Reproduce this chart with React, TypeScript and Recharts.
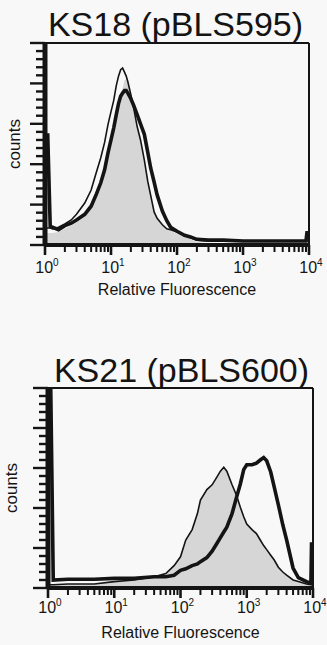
import {
  ComposedChart,
  Area,
  Line,
  XAxis,
  YAxis,
  ReferenceLine,
} from "recharts";

const INK = "#141414";
const GREY = "#d6d6d6";
const FONT = '"Liberation Sans", Arial, Helvetica, sans-serif';

// shared axis ticks (log x, linear counts)
const xTicks = [
  1, 2, 3, 4, 5, 6, 7, 8, 9,
  10, 20, 30, 40, 50, 60, 70, 80, 90,
  100, 200, 300, 400, 500, 600, 700, 800, 900,
  1000, 2000, 3000, 4000, 5000, 6000, 7000, 8000, 9000,
  10000,
];
const yTicks = [0, 10, 20, 30, 40, 50, 60, 70, 80, 90, 100, 110, 120, 130, 140, 150, 160, 170, 180, 190, 200, 210, 220, 230, 240, 250];

// KS18 (pBLS595)
const topFluor = [1, 1.1, 1.2, 1.3, 1.6, 2, 2.5, 3, 4, 5, 6, 7, 8, 9, 10, 11, 12, 13, 14, 15, 16, 17, 18, 20, 22, 25, 28, 32, 36, 40, 45, 50, 60, 70, 80, 100, 130, 160, 200, 300, 500, 1000, 3000, 9000, 9300, 10000];
const topFill = [15, 15, 15, 15, 16, 20, 24, 28, 35, 45, 59, 73, 89, 110, 126, 141, 157, 171, 182, 194, 204, 205, 200, 186, 170, 146, 130, 105, 79, 61, 41, 33, 25, 20, 18, 14, 10, 7, 4, 2, 1, 0, 0, 0, 0, 0];
const topControl = [21, 21, 21, 20, 22, 26, 31, 38, 52, 68, 90, 108, 127, 149, 165, 179, 197, 209, 217, 219, 214, 209, 202, 186, 170, 146, 130, 105, 79, 61, 41, 33, 25, 20, 19, 16, 12, 9, 6, 5, 5, 5, 5, 5, 5, 5];
const topSample = [136, 136, 23, 22, 19, 24, 27, 31, 38, 48, 63, 77, 93, 114, 130, 145, 161, 175, 184, 188, 191, 191, 188, 181, 173, 161, 150, 137, 115, 95, 78, 62, 42, 30, 22, 17, 12, 10, 7, 6, 6, 5, 5, 5, 15, 15];

// KS21 (pBLS600)
const botFluor = [1, 1.1, 1.2, 2, 5, 10, 20, 40, 60, 80, 100, 120, 150, 180, 200, 250, 300, 350, 400, 450, 500, 600, 700, 800, 900, 1000, 1200, 1400, 1600, 1800, 2000, 2300, 2600, 3000, 3500, 4000, 5000, 6000, 8000, 9300, 9500, 10000];
const botControl = [4, 4, 4, 5, 5, 8, 10, 14, 18, 28, 39, 60, 73, 93, 110, 123, 129, 138, 146, 151, 146, 129, 116, 101, 89, 80, 73, 68, 60, 53, 48, 41, 35, 26, 20, 16, 10, 8, 5, 4, 4, 4];
const botSample = [250, 250, 10, 11, 11, 12, 12, 14, 14, 16, 22, 24, 28, 30, 33, 38, 46, 55, 63, 70, 76, 93, 113, 130, 148, 154, 154, 156, 160, 163, 159, 145, 126, 104, 79, 60, 25, 13, 8, 6, 55, 55];

const topData = topFluor.map((f, i) => ({
  fluor: f,
  fill: topFill[i],
  control: topControl[i],
  sample: topSample[i],
}));
const botData = botFluor.map((f, i) => ({
  fluor: f,
  fill: botControl[i],
  control: botControl[i],
  sample: botSample[i],
}));

function makeXTick(labelDrop: number) {
  return (props: any) => {
    const { x, y, payload } = props;
    const lg = Math.log10(payload.value);
    const exp = Math.round(lg);
    const major = Math.abs(lg - exp) < 1e-6;
    return (
      <g>
        <line x1={x} x2={x} y1={y} y2={y + (major ? 10 : 7)} stroke={INK} strokeWidth={major ? 2.6 : 2} />
        {major && (
          <text x={x + 2} y={y + labelDrop} textAnchor="middle" fontSize={16} fill={INK} fontFamily={FONT}>
            10<tspan dy={-7} fontSize={10}>{exp}</tspan>
          </text>
        )}
      </g>
    );
  };
}

const renderYTick = (props: any) => {
  const { x, y, payload } = props;
  const major = payload.value % 50 === 0;
  return <line x1={x} x2={x - (major ? 15 : 9)} y1={y} y2={y} stroke={INK} strokeWidth={2.4} />;
};

interface PanelProps {
  title: string;
  titleLeft: number;
  titleTop: number;
  top: number;
  height: number;
  margin: { top: number; right: number; left: number; bottom: number };
  yWidth: number;
  xHeight: number;
  labelDrop: number;
  titleOffset: number;
  countsShift: number;
  data: any[];
}

function Panel(p: PanelProps) {
  return (
    <>
      <div
        style={{
          position: "absolute",
          left: p.titleLeft,
          top: p.titleTop,
          width: 327,
          textAlign: "center",
          fontFamily: FONT,
          fontSize: 34,
          lineHeight: "34px",
          color: INK,
          whiteSpace: "nowrap",
        }}
      >
        {p.title}
      </div>
      <div style={{ position: "absolute", left: 0, top: p.top }}>
        <ComposedChart width={327} height={p.height} data={p.data} margin={p.margin}>
          <XAxis
            dataKey="fluor"
            type="number"
            scale="log"
            domain={[1, 10000]}
            ticks={xTicks}
            interval={0}
            allowDataOverflow
            height={p.xHeight}
            tickSize={0}
            tickMargin={0}
            tickLine={false}
            tick={makeXTick(p.labelDrop)}
            axisLine={{ stroke: INK, strokeWidth: 4 }}
            label={{
              value: "Relative Fluorescence",
              position: "insideBottom",
              offset: p.titleOffset,
              fill: INK,
              fontSize: 16,
              fontFamily: FONT,
            }}
          />
          <YAxis
            type="number"
            domain={[0, 250]}
            ticks={yTicks}
            interval={0}
            allowDataOverflow
            width={p.yWidth}
            tickSize={0}
            tickMargin={0}
            tickLine={false}
            tick={renderYTick}
            axisLine={{ stroke: INK, strokeWidth: 5 }}
            label={{
              value: "counts",
              angle: -90,
              position: "insideLeft",
              offset: 20,
              dx: -p.countsShift,
              fill: INK,
              fontSize: 17,
              fontFamily: FONT,
              style: { textAnchor: "middle" },
            }}
          />
          <ReferenceLine y={250} stroke={INK} strokeWidth={2} />
          <ReferenceLine x={10000} stroke={INK} strokeWidth={2} />
          <Area
            dataKey="fill"
            type="linear"
            stroke="none"
            fill={GREY}
            fillOpacity={1}
            isAnimationActive={false}
          />
          <Line
            dataKey="control"
            type="linear"
            stroke={INK}
            strokeWidth={1.6}
            dot={false}
            isAnimationActive={false}
          />
          <Line
            dataKey="sample"
            type="linear"
            stroke={INK}
            strokeWidth={3.6}
            dot={false}
            isAnimationActive={false}
          />
        </ComposedChart>
      </div>
    </>
  );
}

export default function App() {
  return (
    <div
      style={{
        position: "absolute",
        left: 0,
        top: 0,
        width: 327,
        height: 645,
        background: "#f8f8f8",
        overflow: "hidden",
      }}
    >
      <Panel
        title="KS18 (pBLS595)"
        titleLeft={12}
        titleTop={7}
        top={0}
        height={300}
        margin={{ top: 43, right: 18, left: 0, bottom: 0 }}
        yWidth={45}
        xHeight={55}
        labelDrop={28}
        titleOffset={5}
        countsShift={6}
        data={topData}
      />
      <Panel
        title="KS21 (pBLS600)"
        titleLeft={18}
        titleTop={353}
        top={320}
        height={325}
        margin={{ top: 68, right: 14, left: 0, bottom: 0 }}
        yWidth={48}
        xHeight={57}
        labelDrop={25}
        titleOffset={7}
        countsShift={9}
        data={botData}
      />
    </div>
  );
}
